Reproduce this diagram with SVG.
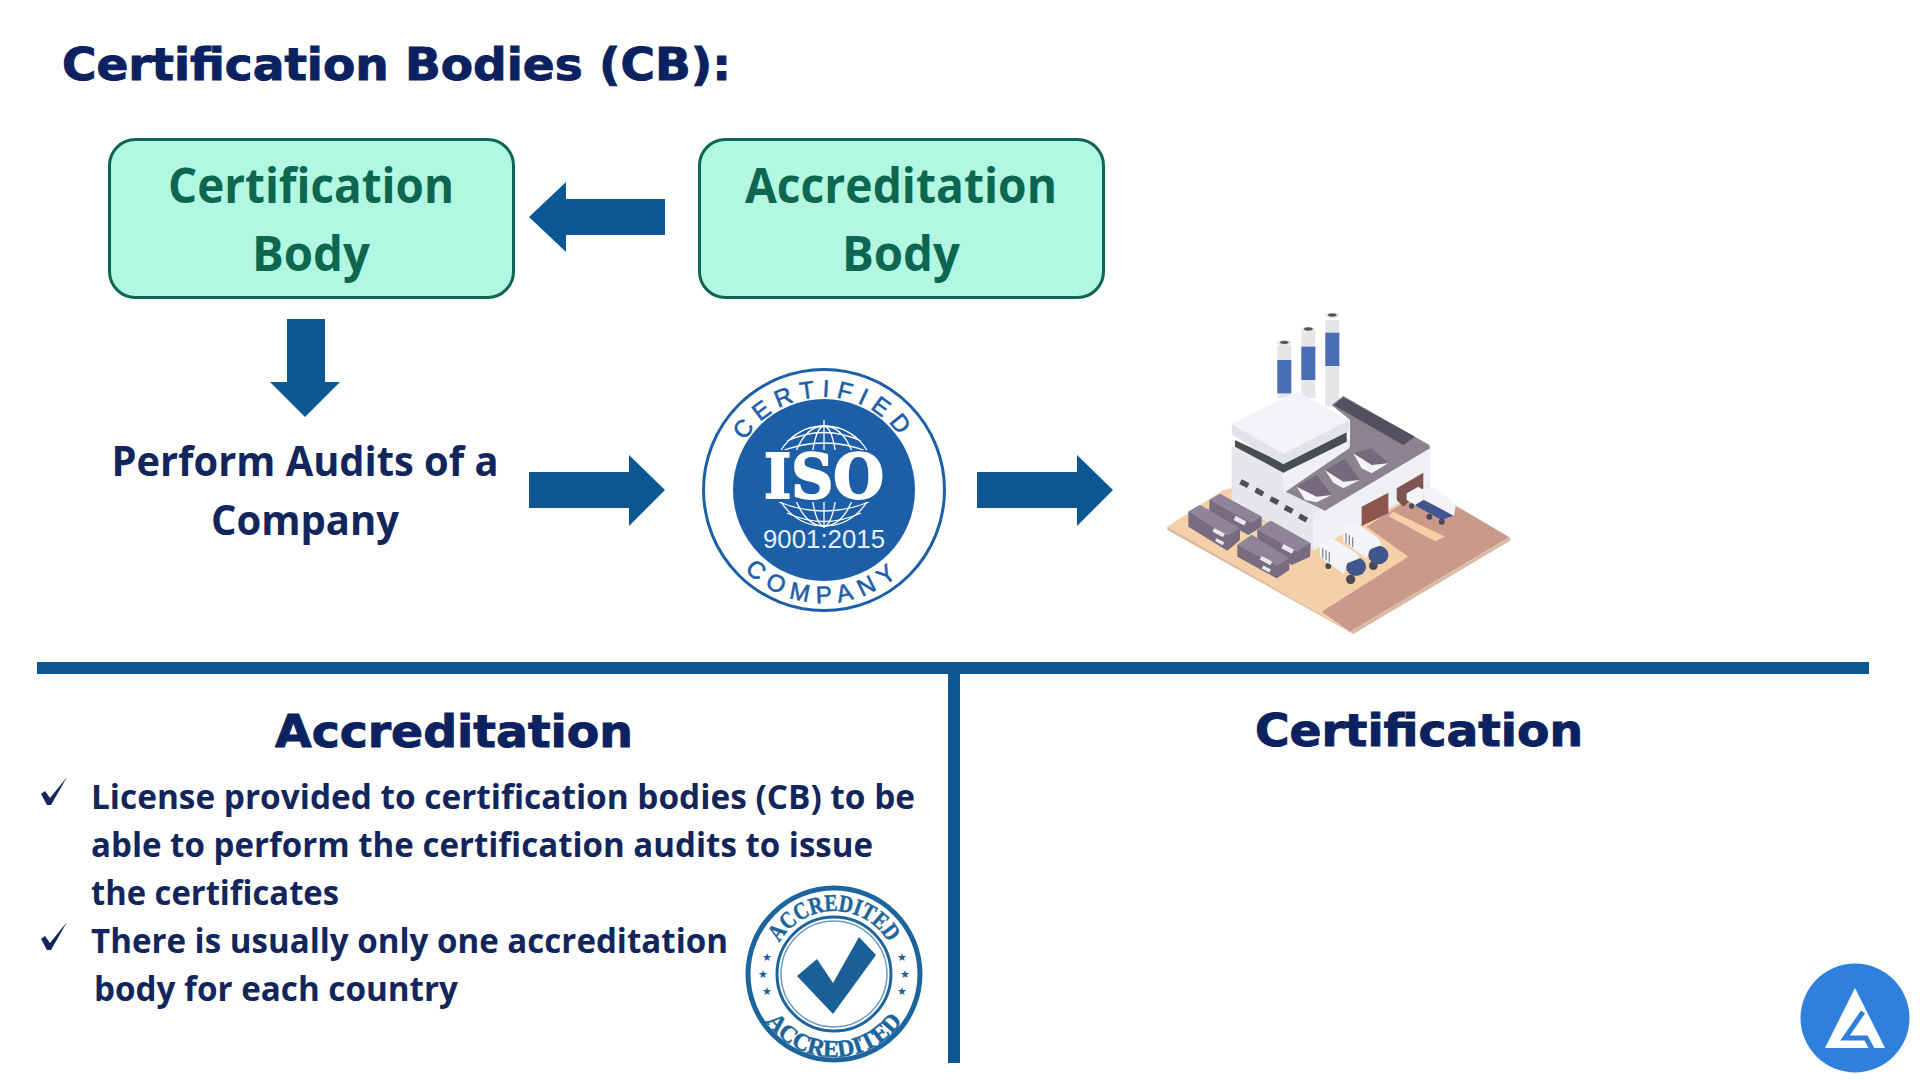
<svg xmlns="http://www.w3.org/2000/svg" xmlns:xlink="http://www.w3.org/1999/xlink" width="1920" height="1080" viewBox="0 0 1920 1080">
<style>
.box{fill:#b2f7e1;stroke:#0d6650;stroke-width:3}
.bt{font-family:"Open Sans","Noto Sans",sans-serif;font-weight:700;font-size:48px;fill:#0d6650;text-anchor:middle}
.pt{font-family:"Open Sans","Noto Sans",sans-serif;font-weight:700;font-size:41px;fill:#12265c;text-anchor:middle}
.h{font-family:"DejaVu Sans",sans-serif;font-weight:700;fill:#0c2260;stroke:#0c2260;stroke-width:1}
.b{font-family:"Open Sans","Noto Sans",sans-serif;font-weight:700;font-size:34px;fill:#12265c}
.ar{fill:#0b5794}
.seal{font-family:"Liberation Sans",sans-serif;fill:#1c5fa8;font-size:24px;stroke:#1c5fa8;stroke-width:.6}
.st{font-family:"Liberation Serif",serif;font-weight:700;fill:#1b659c;font-size:24px;stroke:#1b659c;stroke-width:.5}
</style>
<defs>
<path id="ct" d="M731 490A93 93 0 0 1 917 490"/>
<path id="cb" d="M711 490A113 113 0 0 0 937 490"/>
<path id="at" d="M771 974A63 63 0 0 1 897 974"/>
<path id="ab" d="M751 974A83 83 0 0 0 917 974"/>
<clipPath id="g1"><rect x="760" y="420" width="128" height="30"/><rect x="760" y="502" width="128" height="26"/></clipPath>
</defs>
<rect width="1920" height="1080" fill="#fff"/>
<text class="h" x="62" y="80" font-size="45" textLength="669" lengthAdjust="spacingAndGlyphs">Certification Bodies (CB):</text>

<g id="node-certification-body">
<rect class="box" x="109.500" y="139.500" width="404" height="158" rx="26"/>
<text class="bt" x="311" y="203" textLength="286" lengthAdjust="spacingAndGlyphs">Certification</text>
<text class="bt" x="311" y="271" textLength="118" lengthAdjust="spacingAndGlyphs">Body</text>
</g>
<g id="node-accreditation-body">
<rect class="box" x="699.500" y="139.500" width="404" height="158" rx="26"/>
<text class="bt" x="901" y="203" textLength="312" lengthAdjust="spacingAndGlyphs">Accreditation</text>
<text class="bt" x="901" y="271" textLength="118" lengthAdjust="spacingAndGlyphs">Body</text>
</g>
<g id="node-audits">
<text class="pt" x="305" y="476" textLength="387" lengthAdjust="spacingAndGlyphs">Perform Audits of a</text>
<text class="pt" x="305" y="535" textLength="188" lengthAdjust="spacingAndGlyphs">Company</text>
</g>

<g id="connectors">
<polygon class="ar" points="665,199 566,199 566,182 529,217 566,252 566,235 665,235"/>
<polygon class="ar" points="287,319 325,319 325,382 340,382 305,417 270,382 287,382"/>
<polygon class="ar" points="529,472 629,472 629,455 665,490 629,526 629,508 529,508"/>
<polygon class="ar" points="977,472 1077,472 1077,455 1113,490 1077,526 1077,508 977,508"/>
</g>

<g id="node-iso-seal">
<circle cx="824" cy="490" r="120.500" fill="#fff" stroke="#1c5fa8" stroke-width="3"/>
<circle cx="824" cy="490" r="91" fill="#1c5fa8"/>
<g clip-path="url(#g1)" fill="none" stroke="#fff" stroke-width="1.300">
<circle cx="824" cy="476" r="50"/>
<ellipse cx="824" cy="476" rx="32" ry="50"/>
<ellipse cx="824" cy="476" rx="13" ry="50"/>
<path d="M824 420V530"/>
<path d="M787 441Q824 424 861 441M779 452Q824 434 869 452M787 513Q824 530 861 513M779 502Q824 520 869 502"/>
</g>
<text x="824" y="498" font-family="DejaVu Serif,serif" font-weight="700" font-size="62" fill="#fff" stroke="#fff" stroke-width="2" text-anchor="middle" textLength="120" lengthAdjust="spacingAndGlyphs">ISO</text>
<text x="824" y="548" font-family="Liberation Sans,sans-serif" font-size="25" fill="#e8f0f8" text-anchor="middle" textLength="122" lengthAdjust="spacingAndGlyphs">9001:2015</text>
<text class="seal" text-anchor="middle" letter-spacing="7"><textPath xlink:href="#ct" href="#ct" startOffset="50%">CERTIFIED</textPath></text>
<text class="seal" text-anchor="middle" letter-spacing="8"><textPath xlink:href="#cb" href="#cb" startOffset="50%">COMPANY</textPath></text>
</g>

<g id="node-factory" transform="translate(1140 300) scale(.33333)">
<polygon points="82,690 640,1002 1110,722 1110,712 640,990 82,680" fill="#d9b9a2"/>
<polygon points="82,680 630,995 1108,712 700,470 250,570" fill="#f4cfa8"/>
<polygon points="545,935 630,995 1108,712 960,625 840,575 680,680 805,770" fill="#c99a8b"/>
<polygon points="760,635 915,710 885,724 745,648" fill="#f4cfa8"/>
<rect x="556" y="60" width="42" height="260" fill="#e4e6e8"/><rect x="556" y="98" width="42" height="100" fill="#4a6db5"/><ellipse cx="577" cy="46" rx="21" ry="8" fill="#e4e6e8"/><ellipse cx="577" cy="45" rx="13" ry="5" fill="#555"/>
<rect x="484" y="95" width="42" height="200" fill="#e4e6e8"/><rect x="484" y="140" width="42" height="100" fill="#4a6db5"/><ellipse cx="505" cy="88" rx="21" ry="8" fill="#e4e6e8"/><ellipse cx="505" cy="87" rx="13" ry="5" fill="#555"/>
<rect x="412" y="135" width="42" height="160" fill="#e4e6e8"/><rect x="412" y="180" width="42" height="100" fill="#4a6db5"/><ellipse cx="433" cy="128" rx="21" ry="8" fill="#e4e6e8"/><ellipse cx="433" cy="127" rx="13" ry="5" fill="#555"/>
<polygon points="275,440 630,420 870,440 870,560 520,750 275,600" fill="#e6e7ec"/>
<polygon points="520,640 870,440 870,555 520,752" fill="#eff0f3"/>
<polygon points="575,315 610,288 868,435 870,445 555,632 437,575 630,440 630,360" fill="#8c8391"/>
<polygon points="580,315 610,292 825,410 790,435" fill="#54505f"/>
<polygon points="470,560 530,525 575,585 530,607" fill="#76697c"/><polygon points="555,510 615,478 660,540 610,565" fill="#76697c"/><polygon points="640,460 695,445 745,490 695,520" fill="#76697c"/>
<polygon points="470,560 530,590 575,585 530,607 495,600" fill="#f2f3f5"/><polygon points="555,510 610,545 660,540 610,565 580,548" fill="#f2f3f5"/><polygon points="640,460 695,495 745,490 695,520 665,505" fill="#f2f3f5"/>
<polygon points="430,518 625,415 628,445 430,578" fill="#eff0f3"/>
<polygon points="285,420 430,490 620,395 620,425 430,518 285,440" fill="#4a4d55"/>
<polygon points="275,372 470,275 628,360 628,392 430,492 277,405" fill="#f3f4f8"/>
<polygon points="275,372 430,462 628,360 628,392 430,492 277,405" fill="#e2e3ea"/>
<polygon points="665,620 745,578 745,640 665,678" fill="#8d5450"/><polygon points="770,565 850,518 850,565 790,620 770,600" fill="#7e5552"/>
<g fill="#4f4f58"><rect x="300" y="543" width="26" height="16" transform="rotate(28 313 551)"/><rect x="345" y="568" width="26" height="16" transform="rotate(28 358 576)"/><rect x="390" y="594" width="26" height="16" transform="rotate(28 403 602)"/><rect x="433" y="620" width="26" height="16" transform="rotate(28 446 628)"/><rect x="476" y="646" width="26" height="16" transform="rotate(28 489 654)"/></g>
<g fill="#776b80">
<polygon points="208,600 240,582 365,650 365,680 325,705 208,640"/>
<polygon points="145,635 180,615 300,685 300,720 262,752 145,680"/>
<polygon points="352,690 392,662 512,730 510,770 455,795 352,725"/>
<polygon points="292,735 335,705 448,775 448,810 410,835 292,770"/>
</g>
<g fill="#8f8499">
<polygon points="208,600 240,582 365,650 335,670"/>
<polygon points="145,635 180,615 300,685 262,708"/>
<polygon points="352,690 392,662 512,730 470,755"/>
<polygon points="292,735 335,705 448,775 410,798"/>
</g>
<g fill="#e8e8ee"><rect x="282" y="655" width="36" height="14" transform="rotate(28 300 662)"/><rect x="218" y="692" width="36" height="12" transform="rotate(28 236 698)"/><rect x="226" y="720" width="26" height="10" transform="rotate(28 239 725)"/><rect x="425" y="740" width="36" height="14" transform="rotate(28 443 747)"/><rect x="360" y="776" width="36" height="12" transform="rotate(28 378 782)"/><rect x="366" y="802" width="26" height="10" transform="rotate(28 379 807)"/></g>
<circle cx="700" cy="797" r="13" fill="#4a4a55"/><ellipse cx="715" cy="765" rx="30" ry="28" fill="#41558e"/>
<polygon points="610,685 648,668 715,715 725,735 690,748 680,775 610,725" fill="#f3f4f7"/>
<g stroke="#8a8e9a" stroke-width="4"><path d="M618 700V730M628 706V736M638 712V742"/></g>
<circle cx="632" cy="838" r="14" fill="#4a4a55"/><circle cx="565" cy="798" r="9" fill="#4a4a55"/><ellipse cx="648" cy="800" rx="30" ry="28" fill="#41558e"/>
<polygon points="540,735 578,715 650,760 660,775 622,790 612,822 540,772" fill="#f3f4f7"/>
<g stroke="#8a8e9a" stroke-width="4"><path d="M548 745V775M558 750V780M568 756V786"/></g>
<polygon points="828,590 945,645 905,660 828,618" fill="#41558e"/>
<polygon points="850,565 880,562 948,612 942,648 850,598" fill="#f3f4f7"/>
<polygon points="800,580 835,560 850,570 850,600 825,615 800,600" fill="#f3f4f7"/>
<circle cx="868" cy="650" r="9" fill="#4a4a55"/><circle cx="905" cy="665" r="9" fill="#4a4a55"/><circle cx="815" cy="618" r="8" fill="#4a4a55"/>
</g>

<rect id="divider-h" x="37" y="662" width="1832" height="12" fill="#0b5794"/>
<rect id="divider-v" x="948" y="672" width="12" height="391" fill="#0b5794"/>

<text class="h" x="454" y="747" font-size="45" text-anchor="middle" textLength="358" lengthAdjust="spacingAndGlyphs">Accreditation</text>
<text class="h" x="1419" y="746" font-size="45" text-anchor="middle" textLength="328" lengthAdjust="spacingAndGlyphs">Certification</text>

<g id="accreditation-list">
<polygon points="41,794 45,791 50,798 67,777 51,805 47,805" fill="#12265c"/>
<polygon points="41,939 45,936 50,943 67,922 51,950 47,950" fill="#12265c"/>
<text class="b" x="91" y="809" textLength="824" lengthAdjust="spacingAndGlyphs">License provided to certification bodies (CB) to be</text>
<text class="b" x="91" y="857" textLength="782" lengthAdjust="spacingAndGlyphs">able to perform the certification audits to issue</text>
<text class="b" x="91" y="905" textLength="248" lengthAdjust="spacingAndGlyphs">the certificates</text>
<text class="b" x="91" y="953" textLength="637" lengthAdjust="spacingAndGlyphs">There is usually only one accreditation</text>
<text class="b" x="94" y="1001" textLength="364" lengthAdjust="spacingAndGlyphs">body for each country</text>
</g>

<g id="node-accredited-stamp">
<circle cx="834" cy="974" r="86" fill="#fff" stroke="#1b659c" stroke-width="5"/>
<circle cx="834" cy="974" r="57" fill="#fff" stroke="#1b659c" stroke-width="3"/>
<circle cx="834" cy="974" r="53" fill="none" stroke="#6d9cbd" stroke-width="1.500"/>
<polygon points="797,976 817,959 833,983 859,937 876,955 833,1014" fill="#1b5f98"/>
<text class="st" text-anchor="middle"><textPath xlink:href="#at" href="#at" startOffset="50%" textLength="132" lengthAdjust="spacingAndGlyphs">ACCREDITED</textPath></text>
<text class="st" text-anchor="middle"><textPath xlink:href="#ab" href="#ab" startOffset="50%" textLength="160" lengthAdjust="spacingAndGlyphs">ACCREDITED</textPath></text>
<g font-family="DejaVu Sans,sans-serif" font-size="11" fill="#1b5f98" text-anchor="middle">
<text x="767" y="961">★</text><text x="763" y="978">★</text><text x="767" y="995">★</text>
<text x="902" y="961">★</text><text x="905" y="978">★</text><text x="902" y="995">★</text>
</g>
</g>

<g id="logo">
<circle cx="1855" cy="1018" r="54.500" fill="#2f80dc"/>
<polygon points="1855,988 1885,1048 1825,1048" fill="#fff"/>
<polyline points="1863,1012 1845,1038 1866,1038 1872,1049" fill="none" stroke="#2f80dc" stroke-width="5"/>
</g>
</svg>
